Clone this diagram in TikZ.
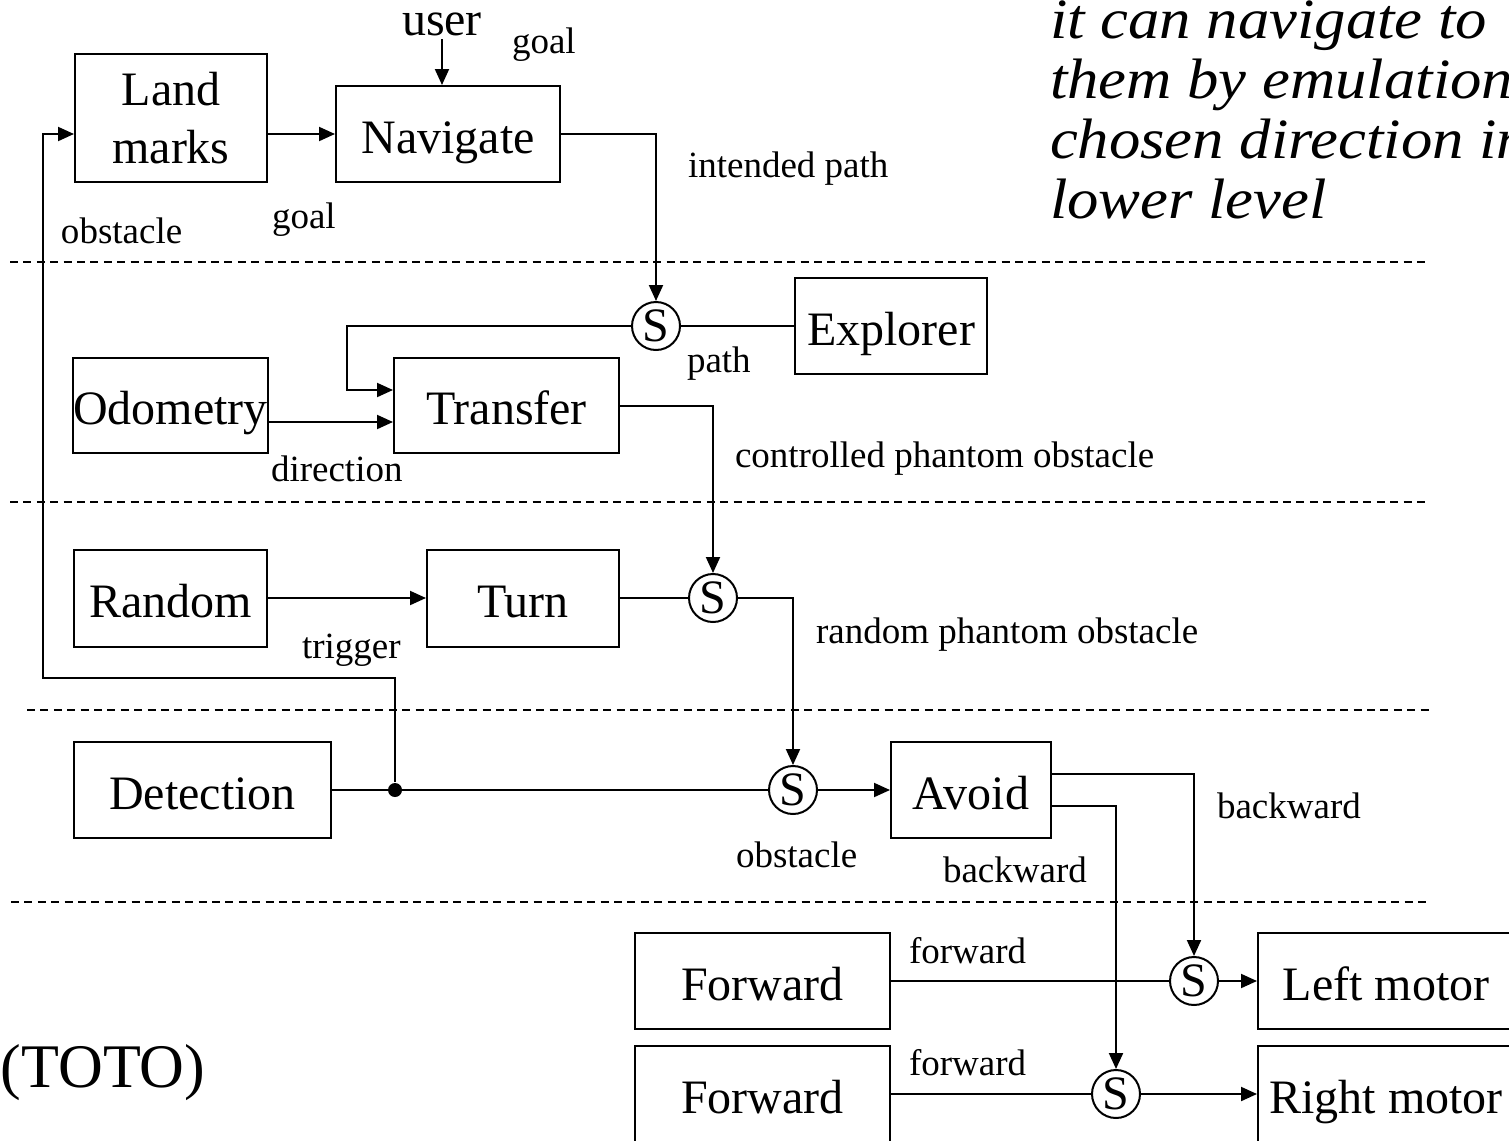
\documentclass[tikz,border=0pt]{standalone}
\usepackage{fontspec}
\setmainfont{Liberation Serif}
\newfontfamily\widefont{Liberation Serif}[FakeStretch=1.1]
\usetikzlibrary{arrows.meta,calc}

\newcommand{\bigtxt}{\fontsize{24}{29}\selectfont}
\newcommand{\smalltxt}{\fontsize{18.5}{22}\selectfont}
\newcommand{\notetxt}{\widefont\fontsize{28.5}{30}\selectfont\itshape}

\tikzset{
  blk/.style={draw,line width=1pt,inner sep=0pt,font=\bigtxt,text height=20pt,text depth=1pt},
  sw/.style={draw,circle,line width=1pt,minimum size=24pt,inner sep=0pt,font=\bigtxt},
  lbl/.style={anchor=base west,inner sep=0pt,font=\smalltxt},
  note/.style={anchor=base west,inner sep=0pt,font=\notetxt},
  tapdot/.style={circle,fill,minimum size=7pt,inner sep=0pt},
  arr/.style={-{Triangle[length=8pt,width=7pt]}},
  sep/.style={dash pattern=on 4pt off 2.7pt,line width=0.8pt},
}

\begin{document}
\begin{tikzpicture}[x=0.5pt,y=-0.5pt,line width=1pt]
\clip (0,0) rectangle (1509,1140);

\draw[sep] (10,262) -- (1429,262);
\draw[sep] (10,502) -- (1429,502);
\draw[sep] (27,710) -- (1433,710);
\draw[sep] (11,902) -- (1429,902);

\node[blk,minimum width=96pt,minimum height=64pt,align=center,text height=,text depth=] (land) at (171,118) {Land\\marks};
\node[blk,minimum width=112pt,minimum height=48pt] (nav) at (448,134) {Navigate};
\node[blk,minimum width=96pt,minimum height=48pt] (expl) at (891,326) {Explorer};
\node[blk,minimum width=95.5pt,minimum height=47.5pt] (odo) at (170.5,405.5) {Odometry};
\node[blk,minimum width=112.5pt,minimum height=47.5pt] (trans) at (506.5,405.5) {Transfer};
\node[blk,minimum width=96.5pt,minimum height=48.5pt] (rand) at (170.5,598) {Random};
\node[blk,minimum width=96pt,minimum height=48.5pt] (turn) at (523,598) {Turn};
\node[blk,minimum width=128.5pt,minimum height=48pt] (det) at (202.5,790) {Detection};
\node[blk,minimum width=80pt,minimum height=48pt] (avoid) at (971,790) {Avoid};
\node[blk,minimum width=127.5pt,minimum height=48pt] (fwdl) at (762.5,981) {Forward};
\node[blk,minimum width=127.5pt,minimum height=48pt] (fwdr) at (762.5,1094) {Forward};
\node[blk,minimum width=128pt,minimum height=48pt] (lmot) at (1386,981) {Left motor};
\node[blk,minimum width=128pt,minimum height=48pt] (rmot) at (1386,1094) {Right motor};

\node[sw] (s1) at (656,326) {S};
\node[sw] (s2) at (713,598) {S};
\node[sw] (s3) at (793,790) {S};
\node[sw] (s4) at (1194,981) {S};
\node[sw] (s5) at (1116,1094) {S};
\node[tapdot] (tap) at (395,790) {};

\node[anchor=base west,inner sep=0pt,font=\bigtxt] (user) at (401,35) {user};
\node[lbl] (goalA) at (511,53) {goal};
\node[lbl] (obsA) at (60,243) {obstacle};
\node[lbl] (goalB) at (271,228) {goal};
\node[lbl] (ipath) at (687,177) {intended path};
\node[lbl] (plab) at (686,372) {path};
\node[lbl] (dirlab) at (270,481) {direction};
\node[lbl] (cpo) at (734,467) {controlled phantom obstacle};
\node[lbl] (trig) at (301,658) {trigger};
\node[lbl] (rpo) at (815,643) {random phantom obstacle};
\node[lbl] (obsB) at (735,867) {obstacle};
\node[lbl] (bwA) at (1216,818) {backward};
\node[lbl] (bwB) at (942,882) {backward};
\node[lbl] (fwA) at (908,963) {forward};
\node[lbl] (fwB) at (908,1075) {forward};
\node[anchor=base west,inner sep=0pt,font=\fontsize{31}{31}\selectfont] (toto) at (0,1087) {(TOTO)};
\foreach \ln [count=\i from 0] in {it can navigate to,them by emulation,chosen direction in,lower level}
  \node[note] (note\i) at (1049,{38+60*\i}) {\ln};

\coordinate (pbend) at (347,390);
\coordinate (fb) at (43,678);

\draw[arr] ([yshift=-1.5pt]user.south) -- (user.south |- nav.north);
\draw[arr] (land.east |- nav.west) -- (nav.west);
\draw[arr] (nav.east) -| (s1.north);
\draw (s1) -- (expl);
\draw[arr] (s1.west) -| (pbend) -- (pbend -| trans.west);
\draw[arr] ([yshift=-8.25pt]odo.east) -- ([yshift=-8.25pt]trans.west);
\draw[arr] (trans.east) -| (s2.north);
\draw[arr] (rand) -- (turn);
\draw (turn) -- (s2);
\draw[arr] (s2.east) -| (s3.north);
\draw (det) -- (s3);
\draw[arr] (tap) |- (fb) |- ([yshift=-8pt]land.west);
\draw[arr] (s3) -- (avoid);
\draw[arr] ([yshift=8pt]avoid.east) -| (s4.north);
\draw[arr] ([yshift=-8pt]avoid.east) -| (s5.north);
\draw (fwdl) -- (s4);
\draw[arr] (s4) -- (lmot);
\draw (fwdr) -- (s5);
\draw[arr] (s5) -- (rmot);
\end{tikzpicture}
\end{document}
